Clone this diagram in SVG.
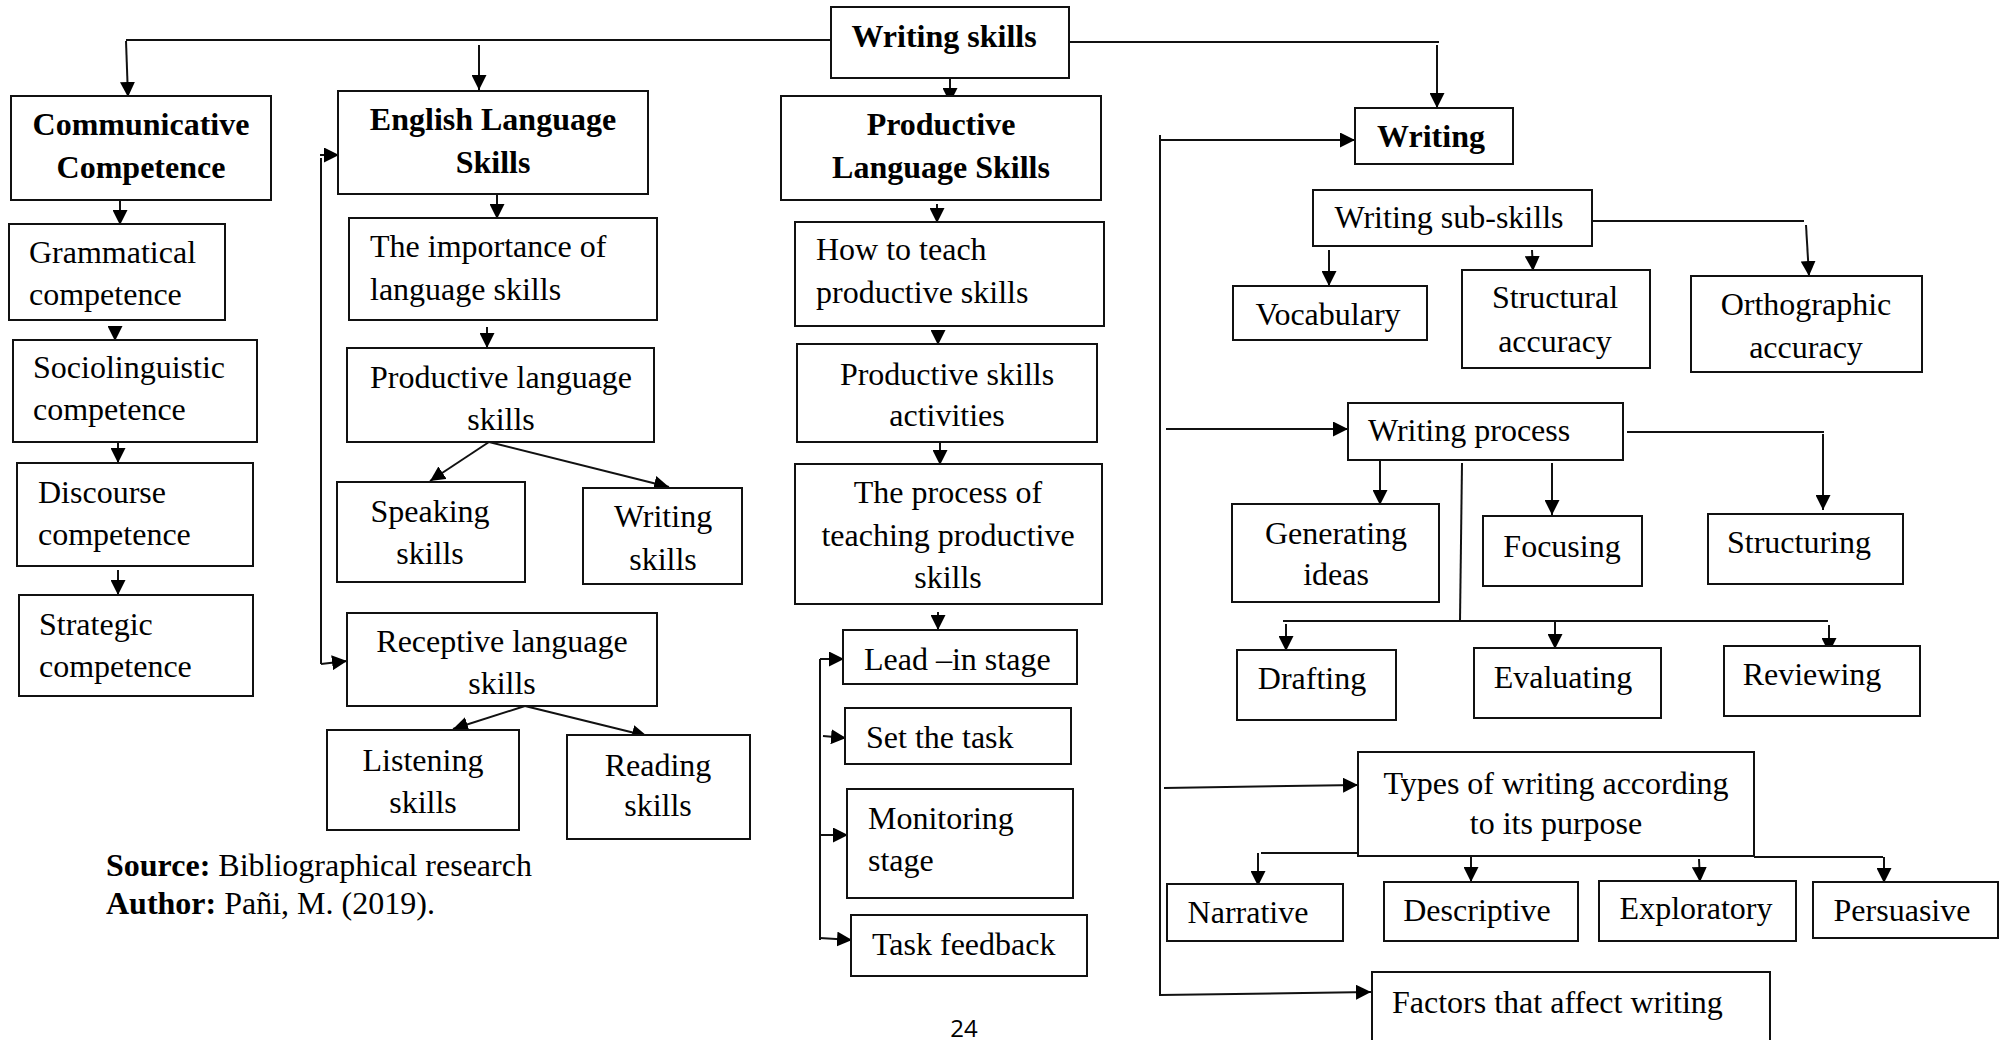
<svg xmlns="http://www.w3.org/2000/svg" width="2004" height="1040" viewBox="0 0 2004 1040">
  <style>
    .box { fill: #fff; stroke: #111; stroke-width: 2; }
    .t { font-family: "Liberation Serif", "Times New Roman", serif; font-size: 32px; fill: #000; }
    .b { font-weight: bold; }
    .c { text-anchor: middle; }
    .ln { fill: none; stroke: #111; stroke-width: 2; }
    .ar { fill: none; stroke: #111; stroke-width: 2; marker-end: url(#ah); }
    .pg { font-family: "Open Sans", "Liberation Sans", sans-serif; font-size: 24px; fill: #000; text-anchor: middle; }
  </style>
  <defs>
    <marker id="ah" markerUnits="userSpaceOnUse" markerWidth="16" markerHeight="15" refX="15" refY="7.5" orient="auto">
      <path d="M0,0 L15,7.5 L0,15 z" fill="#000"/>
    </marker>
  </defs>
  <rect width="2004" height="1040" fill="#fff"/>

  <!-- connectors -->
  <g id="connectors">
    <!-- root branches -->
    <path class="ln" d="M126,40 L832,40"/>
    <path class="ar" d="M126,41 L128,97"/>
    <path class="ar" d="M479,45 L479,90"/>
    <path class="ar" d="M950,78 L950,103"/>
    <path class="ln" d="M1069,42 L1439,42"/>
    <path class="ar" d="M1437,45 L1437,108"/>

    <!-- communicative competence chain -->
    <path class="ar" d="M120,200 L120,225"/>
    <path class="ar" d="M115,327 L115,341"/>
    <path class="ar" d="M118,442 L118,463"/>
    <path class="ar" d="M118,570 L118,595"/>

    <!-- english language skills -->
    <path class="ar" d="M497,194 L497,219"/>
    <path class="ar" d="M487,327 L487,348"/>
    <path class="ar" d="M489,442 L430,481"/>
    <path class="ar" d="M489,442 L669,487"/>
    <path class="ln" d="M321,158 L321,664"/>
    <path class="ar" d="M320,155 L339,155"/>
    <path class="ar" d="M321,664 L347,661"/>
    <path class="ar" d="M525,706 L453,729"/>
    <path class="ar" d="M525,706 L647,736"/>

    <!-- productive language skills -->
    <path class="ar" d="M937,204 L937,223"/>
    <path class="ar" d="M938,330 L938,345"/>
    <path class="ar" d="M940,442 L940,465"/>
    <path class="ar" d="M938,612 L938,630"/>
    <path class="ln" d="M820,659 L820,940"/>
    <path class="ar" d="M820,659 L844,659"/>
    <path class="ar" d="M823,736 L846,738"/>
    <path class="ar" d="M820,835 L848,835"/>
    <path class="ar" d="M820,938 L852,940"/>

    <!-- writing -->
    <path class="ln" d="M1160,135 L1160,996"/>
    <path class="ar" d="M1160,140 L1355,140"/>
    <path class="ln" d="M1592,221 L1804,221"/>
    <path class="ar" d="M1806,225 L1809,276"/>
    <path class="ar" d="M1329,250 L1329,286"/>
    <path class="ar" d="M1532,250 L1533,271"/>

    <path class="ar" d="M1166,429 L1348,429"/>
    <path class="ln" d="M1627,432 L1824,432"/>
    <path class="ar" d="M1823,434 L1823,510"/>
    <path class="ar" d="M1380,460 L1380,505"/>
    <path class="ar" d="M1552,463 L1552,515"/>
    <path class="ln" d="M1462,463 L1460,621"/>
    <path class="ln" d="M1283,621 L1828,621"/>
    <path class="ar" d="M1286,624 L1286,651"/>
    <path class="ar" d="M1555,622 L1555,649"/>
    <path class="ar" d="M1829,625 L1829,653"/>

    <path class="ar" d="M1164,788 L1358,785"/>
    <path class="ln" d="M1261,853 L1358,853"/>
    <path class="ar" d="M1258,853 L1258,886"/>
    <path class="ar" d="M1471,856 L1471,882"/>
    <path class="ln" d="M1754,857 L1883,857"/>
    <path class="ar" d="M1699,859 L1700,882"/>
    <path class="ar" d="M1884,857 L1884,883"/>

    <path class="ar" d="M1160,995 L1371,992"/>
  </g>

  <!-- communicative competence column -->
  <g id="communicative-competence">
    <rect class="box" x="11" y="96" width="260" height="104"/>
    <text class="t b c" x="141" y="135">Communicative</text>
    <text class="t b c" x="141" y="178">Competence</text>
  </g>
  <g id="grammatical-competence">
    <rect class="box" x="9" y="224" width="216" height="96"/>
    <text class="t" x="29" y="263">Grammatical</text>
    <text class="t" x="29" y="305">competence</text>
  </g>
  <g id="sociolinguistic-competence">
    <rect class="box" x="13" y="340" width="244" height="102"/>
    <text class="t" x="33" y="378">Sociolinguistic</text>
    <text class="t" x="33" y="420">competence</text>
  </g>
  <g id="discourse-competence">
    <rect class="box" x="17" y="463" width="236" height="103"/>
    <text class="t" x="38" y="503">Discourse</text>
    <text class="t" x="38" y="545">competence</text>
  </g>
  <g id="strategic-competence">
    <rect class="box" x="19" y="595" width="234" height="101"/>
    <text class="t" x="39" y="635">Strategic</text>
    <text class="t" x="39" y="677">competence</text>
  </g>

  <!-- english language skills column -->
  <g id="english-language-skills">
    <rect class="box" x="338" y="91" width="310" height="103"/>
    <text class="t b c" x="493" y="130">English Language</text>
    <text class="t b c" x="493" y="173">Skills</text>
  </g>
  <g id="importance-of-language-skills">
    <rect class="box" x="349" y="218" width="308" height="102"/>
    <text class="t" x="370" y="257">The importance of</text>
    <text class="t" x="370" y="300">language skills</text>
  </g>
  <g id="productive-language-skills-sub">
    <rect class="box" x="347" y="348" width="307" height="94"/>
    <text class="t c" x="501" y="388">Productive language</text>
    <text class="t c" x="501" y="430">skills</text>
  </g>
  <g id="speaking-skills">
    <rect class="box" x="337" y="482" width="188" height="100"/>
    <text class="t c" x="430" y="522">Speaking</text>
    <text class="t c" x="430" y="564">skills</text>
  </g>
  <g id="writing-skills-sub">
    <rect class="box" x="583" y="488" width="159" height="96"/>
    <text class="t c" x="663" y="527">Writing</text>
    <text class="t c" x="663" y="570">skills</text>
  </g>
  <g id="receptive-language-skills">
    <rect class="box" x="347" y="613" width="310" height="93"/>
    <text class="t c" x="502" y="652">Receptive language</text>
    <text class="t c" x="502" y="694">skills</text>
  </g>
  <g id="listening-skills">
    <rect class="box" x="327" y="730" width="192" height="100"/>
    <text class="t c" x="423" y="771">Listening</text>
    <text class="t c" x="423" y="813">skills</text>
  </g>
  <g id="reading-skills">
    <rect class="box" x="567" y="735" width="183" height="104"/>
    <text class="t c" x="658" y="776">Reading</text>
    <text class="t c" x="658" y="816">skills</text>
  </g>

  <!-- source note -->
  <g id="source-note">
    <text class="t" x="106" y="876"><tspan class="b">Source:</tspan> Bibliographical research</text>
    <text class="t" x="106" y="914"><tspan class="b">Author:</tspan> Pañi, M. (2019).</text>
  </g>

  <!-- root and productive skills column -->
  <g id="writing-skills">
    <rect class="box" x="831" y="7" width="238" height="71"/>
    <text class="t b c" x="944" y="47">Writing skills</text>
  </g>
  <g id="productive-language-skills">
    <rect class="box" x="781" y="96" width="320" height="104"/>
    <text class="t b c" x="941" y="135">Productive</text>
    <text class="t b c" x="941" y="178">Language Skills</text>
  </g>
  <g id="how-to-teach">
    <rect class="box" x="795" y="222" width="309" height="104"/>
    <text class="t" x="816" y="260">How to teach</text>
    <text class="t" x="816" y="303">productive skills</text>
  </g>
  <g id="productive-skills-activities">
    <rect class="box" x="797" y="344" width="300" height="98"/>
    <text class="t c" x="947" y="385">Productive skills</text>
    <text class="t c" x="947" y="426">activities</text>
  </g>
  <g id="process-of-teaching">
    <rect class="box" x="795" y="464" width="307" height="140"/>
    <text class="t c" x="948" y="503">The process of</text>
    <text class="t c" x="948" y="546">teaching productive</text>
    <text class="t c" x="948" y="588">skills</text>
  </g>
  <g id="lead-in-stage">
    <rect class="box" x="843" y="630" width="234" height="54"/>
    <text class="t" x="864" y="670">Lead –in stage</text>
  </g>
  <g id="set-the-task">
    <rect class="box" x="845" y="708" width="226" height="56"/>
    <text class="t" x="866" y="748">Set the task</text>
  </g>
  <g id="monitoring-stage">
    <rect class="box" x="847" y="789" width="226" height="109"/>
    <text class="t" x="868" y="829">Monitoring</text>
    <text class="t" x="868" y="871">stage</text>
  </g>
  <g id="task-feedback">
    <rect class="box" x="851" y="915" width="236" height="61"/>
    <text class="t" x="872" y="955">Task feedback</text>
  </g>

  <!-- writing column -->
  <g id="writing">
    <rect class="box" x="1355" y="108" width="158" height="56"/>
    <text class="t b c" x="1431" y="147">Writing</text>
  </g>
  <g id="writing-sub-skills">
    <rect class="box" x="1313" y="190" width="279" height="56"/>
    <text class="t c" x="1449" y="228">Writing sub-skills</text>
  </g>
  <g id="vocabulary">
    <rect class="box" x="1233" y="286" width="194" height="54"/>
    <text class="t c" x="1328" y="325">Vocabulary</text>
  </g>
  <g id="structural-accuracy">
    <rect class="box" x="1462" y="270" width="188" height="98"/>
    <text class="t c" x="1555" y="308">Structural</text>
    <text class="t c" x="1555" y="352">accuracy</text>
  </g>
  <g id="orthographic-accuracy">
    <rect class="box" x="1691" y="276" width="231" height="96"/>
    <text class="t c" x="1806" y="315">Orthographic</text>
    <text class="t c" x="1806" y="358">accuracy</text>
  </g>
  <g id="writing-process">
    <rect class="box" x="1348" y="403" width="275" height="57"/>
    <text class="t" x="1368" y="441">Writing process</text>
  </g>
  <g id="generating-ideas">
    <rect class="box" x="1232" y="504" width="207" height="98"/>
    <text class="t c" x="1336" y="544">Generating</text>
    <text class="t c" x="1336" y="585">ideas</text>
  </g>
  <g id="focusing">
    <rect class="box" x="1483" y="516" width="159" height="70"/>
    <text class="t c" x="1562" y="557">Focusing</text>
  </g>
  <g id="structuring">
    <rect class="box" x="1708" y="514" width="195" height="70"/>
    <text class="t c" x="1799" y="553">Structuring</text>
  </g>
  <g id="drafting">
    <rect class="box" x="1237" y="650" width="159" height="70"/>
    <text class="t c" x="1312" y="689">Drafting</text>
  </g>
  <g id="evaluating">
    <rect class="box" x="1474" y="648" width="187" height="70"/>
    <text class="t c" x="1563" y="688">Evaluating</text>
  </g>
  <g id="reviewing">
    <rect class="box" x="1724" y="646" width="196" height="70"/>
    <text class="t c" x="1812" y="685">Reviewing</text>
  </g>
  <g id="types-of-writing">
    <rect class="box" x="1358" y="752" width="396" height="104"/>
    <text class="t c" x="1556" y="794">Types of writing according</text>
    <text class="t c" x="1556" y="834">to its purpose</text>
  </g>
  <g id="narrative">
    <rect class="box" x="1167" y="884" width="176" height="57"/>
    <text class="t c" x="1248" y="923">Narrative</text>
  </g>
  <g id="descriptive">
    <rect class="box" x="1384" y="882" width="194" height="59"/>
    <text class="t c" x="1477" y="921">Descriptive</text>
  </g>
  <g id="exploratory">
    <rect class="box" x="1599" y="881" width="197" height="60"/>
    <text class="t c" x="1696" y="919">Exploratory</text>
  </g>
  <g id="persuasive">
    <rect class="box" x="1813" y="882" width="185" height="56"/>
    <text class="t c" x="1902" y="921">Persuasive</text>
  </g>
  <g id="factors">
    <rect class="box" x="1372" y="972" width="398" height="80"/>
    <text class="t" x="1392" y="1013">Factors that affect writing</text>
  </g>

  <!-- page number -->
  <text class="pg" x="964" y="1037">24</text>
</svg>
